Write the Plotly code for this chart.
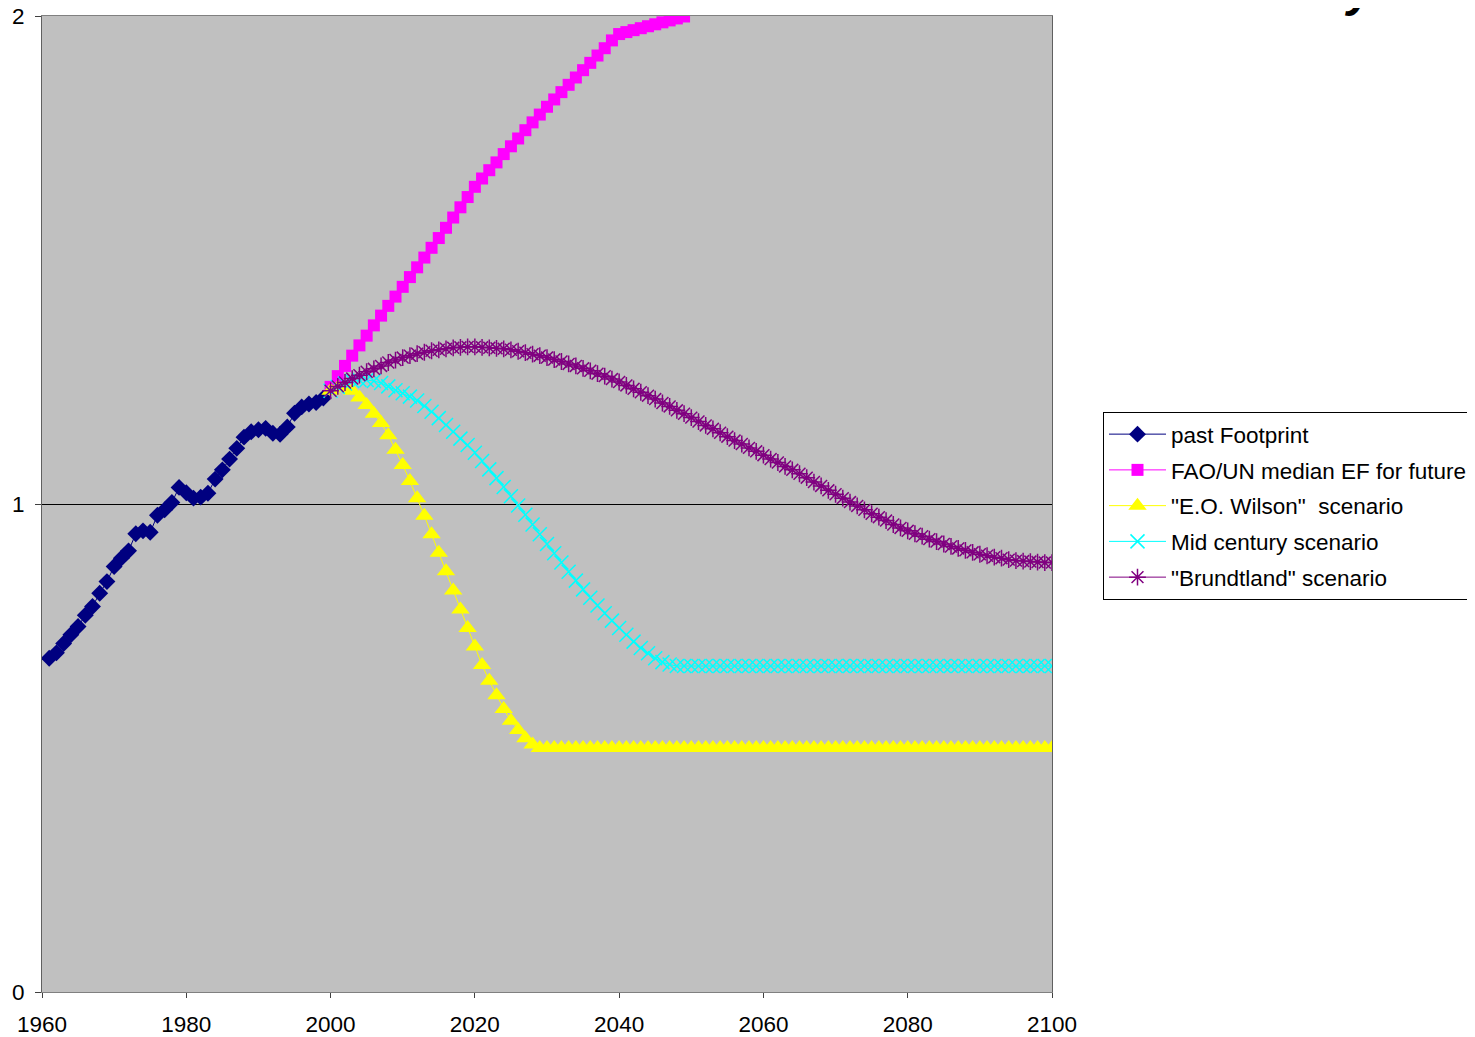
import plotly.graph_objects as go

# past footprint, 1961-1999
past_years = list(range(1961, 2000))
past_footprint = [
    0.684, 0.695, 0.714, 0.732, 0.749, 0.772, 0.790, 0.817, 0.841, 0.872,
    0.889, 0.904, 0.939, 0.945, 0.942, 0.977, 0.988, 1.003, 1.034, 1.023,
    1.012, 1.014, 1.022, 1.051, 1.070, 1.092, 1.114, 1.137, 1.148, 1.152,
    1.155, 1.145, 1.143, 1.158, 1.186, 1.199, 1.205, 1.208, 1.217,
]

# FAO/UN median, 2000-2049
fao_years = list(range(2000, 2050))
fao_median = [
    1.240, 1.262, 1.283, 1.304, 1.325, 1.345, 1.366, 1.386, 1.406, 1.425,
    1.445, 1.465, 1.485, 1.505, 1.525, 1.545, 1.566, 1.587, 1.608, 1.629,
    1.650, 1.667, 1.684, 1.700, 1.717, 1.733, 1.749, 1.766, 1.782, 1.798,
    1.814, 1.829, 1.844, 1.859, 1.874, 1.889, 1.904, 1.919, 1.934, 1.950,
    1.963, 1.967, 1.971, 1.975, 1.979, 1.983, 1.987, 1.991, 1.995, 1.999,
]

# scenarios, 2000-2100
scen_years = list(range(2000, 2101))
wilson = [
    1.232, 1.238, 1.240, 1.232, 1.218, 1.203, 1.185, 1.166, 1.141, 1.111,
    1.080, 1.047, 1.012, 0.976, 0.938, 0.900, 0.862, 0.823, 0.784, 0.746,
    0.708, 0.670, 0.638, 0.608, 0.580, 0.556, 0.537, 0.520, 0.507, 0.500,
] + [0.500] * 71
mid_century = [
    1.232, 1.240, 1.247, 1.252, 1.254, 1.254, 1.252, 1.248, 1.241, 1.233,
    1.227, 1.220, 1.212, 1.201, 1.189, 1.176, 1.162, 1.148, 1.134, 1.121,
    1.105, 1.088, 1.071, 1.053, 1.035, 1.016, 0.997, 0.978, 0.958, 0.938,
    0.918, 0.899, 0.880, 0.861, 0.843, 0.825, 0.808, 0.792, 0.776, 0.761,
    0.746, 0.732, 0.718, 0.705, 0.694, 0.684, 0.676, 0.671, 0.668,
] + [0.668] * 52
brundtland = [
    1.232, 1.241, 1.249, 1.257, 1.264, 1.271, 1.277, 1.283, 1.290, 1.295,
    1.300, 1.304, 1.308, 1.311, 1.314, 1.316, 1.318, 1.320, 1.321, 1.322,
    1.322, 1.321, 1.320, 1.319, 1.318, 1.316, 1.313, 1.310, 1.307, 1.304,
    1.300, 1.296, 1.292, 1.287, 1.283, 1.278, 1.273, 1.267, 1.262, 1.256,
    1.250, 1.243, 1.236, 1.229, 1.222, 1.215, 1.207, 1.200, 1.192, 1.185,
    1.177, 1.169, 1.161, 1.154, 1.146, 1.138, 1.130, 1.123, 1.115, 1.108,
    1.100, 1.092, 1.085, 1.077, 1.070, 1.062, 1.054, 1.045, 1.037, 1.028,
    1.020, 1.012, 1.004, 0.996, 0.988, 0.980, 0.973, 0.966, 0.958, 0.951,
    0.945, 0.939, 0.934, 0.928, 0.923, 0.918, 0.913, 0.909, 0.905, 0.901,
    0.897, 0.894, 0.891, 0.889, 0.886, 0.884, 0.883, 0.882, 0.881, 0.880,
    0.880,
]

x_ticks = [1960, 1980, 2000, 2020, 2040, 2060, 2080, 2100]
y_ticks = [0, 1, 2]

FONT = "Liberation Sans, Arial, sans-serif"
# the page body adds an 8px margin, so the figure is 8px smaller than the window
W, H = 1467, 1029

fig = go.Figure()

fig.add_trace(go.Scatter(
    x=past_years, y=past_footprint, mode="lines+markers", name="past Footprint",
    line=dict(color="#000080", width=1),
    marker=dict(symbol="diamond", size=13, color="#000080"),
    legendgroup="a",
))
fig.add_trace(go.Scatter(
    x=fao_years, y=fao_median, mode="lines+markers", name="FAO/UN median EF for future",
    line=dict(color="#FF00FF", width=1),
    marker=dict(symbol="square", size=12, color="#FF00FF"),
    legendgroup="b",
))
fig.add_trace(go.Scatter(
    x=scen_years, y=wilson, mode="lines+markers", name="\"E.O. Wilson\"  scenario",
    line=dict(color="#FFFF00", width=1),
    marker=dict(symbol="triangle-up", size=16, color="#FFFF00"),
    legendgroup="c",
))
fig.add_trace(go.Scatter(
    x=scen_years, y=mid_century, mode="lines+markers", name="Mid century scenario",
    line=dict(color="#00FFFF", width=1),
    marker=dict(symbol="x-thin-open", size=14, color="#00FFFF",
                line=dict(color="#00FFFF", width=1.5)),
    legendgroup="d",
))
fig.add_trace(go.Scatter(
    x=scen_years, y=brundtland, mode="lines+markers", name="\"Brundtland\" scenario",
    line=dict(color="#800080", width=1),
    marker=dict(symbol="asterisk-open", size=14, color="#800080",
                line=dict(color="#800080", width=1.5)),
    legendgroup="e",
))

# cut-off title glyph at the top edge
fig.add_annotation(
    text="<b><i>y</i></b>", xref="paper", yref="paper",
    x=(1360 - 42) / 1010, y=1.0, yshift=-2, xanchor="center", yanchor="bottom",
    showarrow=False, font=dict(family=FONT, size=48, color="black"),
)

fig.update_layout(
    width=W, height=H,
    margin=dict(l=34, r=423, t=8, b=45, autoexpand=False),
    paper_bgcolor="white",
    plot_bgcolor="#C0C0C0",
    font=dict(family=FONT, size=22.5, color="black"),
    legend=dict(
        xref="container", yref="container",
        x=1095 / W, y=1 - 404 / H, xanchor="left", yanchor="top",
        bgcolor="white", bordercolor="black", borderwidth=1,
        font=dict(family=FONT, size=22.5, color="black"),
        tracegroupgap=3.5, itemwidth=57,
    ),
    showlegend=True,
)

fig.update_xaxes(
    range=[1960, 2100], tickvals=x_ticks, showgrid=False, zeroline=False,
    showline=True, linecolor="#808080", linewidth=1, mirror=True, automargin=False,
    ticks="outside", ticklen=5, tickcolor="#404040", ticklabelstandoff=7,
    ticklabeloverflow="allow",
)
fig.update_yaxes(
    range=[0, 2], tickvals=y_ticks, showgrid=True, gridcolor="black", gridwidth=1,
    zeroline=False, showline=True, linecolor="#606060", linewidth=1, mirror=True,
    automargin=False, ticklabeloverflow="allow",
    ticks="outside", ticklen=6, tickcolor="#404040", ticklabelstandoff=6,
)

fig.write_html("out.html")
